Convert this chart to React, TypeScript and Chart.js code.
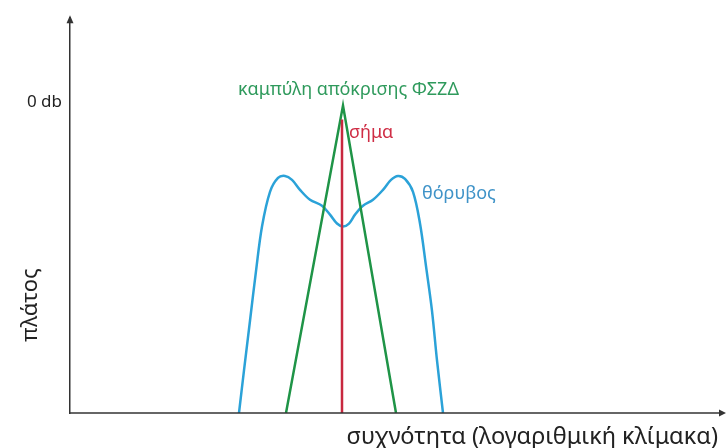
import React, { useEffect, useRef } from 'react';
import { Chart, registerables } from 'chart.js';

Chart.register(...registerables);

// horizontal axis: log-frequency units; vertical axis: amplitude in dB
const noiseX = [16.9, 17.4, 18.0, 18.6, 19.2, 20.0, 20.8, 21.5, 22.2, 23.0, 24.0, 25.2, 26.0, 26.7, 27.3, 27.9, 28.5, 29.3, 30.3, 31.3, 32.1, 32.8, 33.5, 34.3, 35.0, 35.6, 36.2, 36.7, 37.3];
const noiseY = [-31.3, -27.0, -22.0, -17.0, -12.5, -9.0, -7.6, -7.4, -7.8, -8.8, -9.8, -10.4, -11.3, -12.2, -12.5, -12.2, -11.3, -10.4, -9.8, -8.8, -7.8, -7.4, -7.7, -9.0, -12.2, -16.5, -21.0, -26.0, -31.3];
const filterX = [21.6, 27.3, 32.6];
const filterY = [-31.3, -0.3, -31.3];
const signalX = [27.2, 27.2];
const signalY = [-31.3, -1.7];

const xMin = 0;
const xMax = 64.8;
const yMin = -31.3;
const yMax = 8.5;
const yTicks = [0];
const yTickLabels = ['0 db'];

const xTitle = 'συχνότητα (λογαριθμική κλίμακα)';
const yTitle = 'πλάτος';

const annotationTexts = ['καμπύλη απόκρισης ΦΣΖΔ', 'σήμα', 'θόρυβος'];
const annotationX = [16.8, 27.9, 35.2];
const annotationY = [1.3, -3.1, -9.2];
const annotationColors = ['#2f9a5c', '#cf2d45', '#3f93c8'];

const FONT = "'Noto Sans', sans-serif";

const toPoints = (xs: number[], ys: number[]) => xs.map((x, i) => ({ x, y: ys[i] }));

const overlayPlugin = {
  id: 'overlay',
  afterDraw(chart: any) {
    const { ctx, chartArea, scales } = chart;
    const { left, right, top, bottom } = chartArea;
    ctx.save();
    // axis arrows
    ctx.strokeStyle = '#333';
    ctx.fillStyle = '#333';
    ctx.lineWidth = 1.5;
    ctx.beginPath();
    ctx.moveTo(left, bottom);
    ctx.lineTo(right + 6, bottom);
    ctx.stroke();
    ctx.beginPath();
    ctx.moveTo(right + 8, bottom);
    ctx.lineTo(right + 1, bottom - 3.5);
    ctx.lineTo(right + 1, bottom + 3.5);
    ctx.closePath();
    ctx.fill();
    ctx.beginPath();
    ctx.moveTo(left, top - 3);
    ctx.lineTo(left - 3.5, top + 5);
    ctx.lineTo(left + 3.5, top + 5);
    ctx.closePath();
    ctx.fill();

    // annotations
    ctx.textBaseline = 'middle';
    ctx.textAlign = 'left';
    annotationTexts.forEach((t, i) => {
      ctx.fillStyle = annotationColors[i];
      ctx.font = `18px ${FONT}`;
      ctx.fillText(t, scales.x.getPixelForValue(annotationX[i]), scales.y.getPixelForValue(annotationY[i]));
    });

    // vertical axis title
    ctx.translate(31, 305);
    ctx.rotate(-Math.PI / 2);
    ctx.textAlign = 'center';
    ctx.fillStyle = '#222';
    ctx.font = `22px ${FONT}`;
    ctx.fillText(yTitle, 0, 0);
    ctx.restore();
  },
};

export default function App() {
  const ref = useRef<HTMLCanvasElement>(null);
  useEffect(() => {
    document.body.style.margin = '0';
    const chart = new Chart(ref.current as HTMLCanvasElement, {
      type: 'line',
      data: {
        datasets: [
          {
            label: 'σήμα',
            data: toPoints(signalX, signalY),
            borderColor: '#c8283f',
            borderWidth: 2.5,
            pointRadius: 0,
          },
          {
            label: 'καμπύλη απόκρισης ΦΣΖΔ',
            data: toPoints(filterX, filterY),
            borderColor: '#1f9447',
            borderWidth: 2.5,
            pointRadius: 0,
          },
          {
            label: 'θόρυβος',
            data: toPoints(noiseX, noiseY),
            borderColor: '#2ba2d8',
            borderWidth: 2.5,
            pointRadius: 0,
            tension: 0.35,
          },
        ],
      },
      options: {
        animation: false,
        responsive: false,
        events: [],
        layout: { padding: { top: 15, right: 9, left: 0, bottom: 0 } },
        plugins: { legend: { display: false }, tooltip: { enabled: false } },
        scales: {
          x: {
            type: 'linear',
            min: xMin,
            max: xMax,
            grid: { display: false },
            border: { display: false },
            ticks: { display: false },
            title: {
              display: true,
              text: xTitle,
              align: 'end',
              color: '#222',
              font: { family: FONT, size: 23.5, lineHeight: 0.95 },
              padding: 0,
            },
            afterFit: (s: any) => {
              s.height = 35;
            },
          },
          y: {
            type: 'linear',
            min: yMin,
            max: yMax,
            grid: { display: false, drawTicks: false },
            border: { display: true, color: '#333', width: 1.5 },
            ticks: {
              padding: 8,
              color: '#222',
              font: { family: FONT, size: 17 },
              callback: (v: any) => {
                const i = yTicks.indexOf(Number(v));
                return i >= 0 ? yTickLabels[i] : '';
              },
            },
            afterBuildTicks: (s: any) => {
              s.ticks = yTicks.map((value) => ({ value }));
            },
            afterFit: (s: any) => {
              s.width = 70;
            },
          },
        },
      },
      plugins: [overlayPlugin],
    });
    return () => chart.destroy();
  }, []);
  return (
    <div style={{ width: 727, height: 448 }}>
      <canvas ref={ref} width={727} height={448} />
    </div>
  );
}
